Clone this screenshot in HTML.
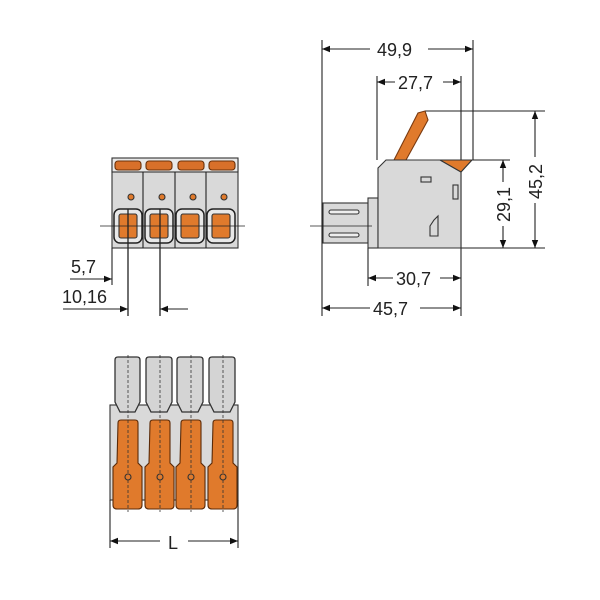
<!DOCTYPE html>
<html><head><style>body{margin:0;background:#fff}svg{display:block}text{font-family:"Liberation Sans",sans-serif;font-size:18px;fill:#222}</style></head><body>
<svg width="600" height="600" viewBox="0 0 600 600">
<defs>
<marker id="a" viewBox="0 0 10 10" refX="10" refY="5" markerWidth="13" markerHeight="8" markerUnits="userSpaceOnUse" orient="auto-start-reverse"><path d="M0,1 L10,5 L0,9 z" fill="#111"/></marker>
</defs>
<g stroke="#222" stroke-width="1.1" fill="none">
<rect x="112" y="160" width="126" height="88" fill="#d9d9d9" stroke="#333"/>
<rect x="112" y="158" width="126" height="14" fill="#e8e8e8" stroke="#333"/>
<g fill="#d8702a" stroke="#6a3008">
<rect x="115" y="161" width="26" height="9" rx="3"/><rect x="146" y="161" width="26" height="9" rx="3"/><rect x="178" y="161" width="26" height="9" rx="3"/><rect x="209" y="161" width="26" height="9" rx="3"/>
</g>
<g stroke="#222" stroke-width="1.5" fill="#e8e8e8">
<rect x="114" y="209" width="28" height="34" rx="6"/><rect x="145" y="209" width="28" height="34" rx="6"/><rect x="176" y="209" width="28" height="34" rx="6"/><rect x="207" y="209" width="28" height="34" rx="6"/>
</g>
<g fill="#e07a2c" stroke="#333">
<rect x="119" y="214" width="18" height="24" rx="2"/><rect x="150" y="214" width="18" height="24" rx="2"/><rect x="181" y="214" width="18" height="24" rx="2"/><rect x="212" y="214" width="18" height="24" rx="2"/>
</g>
<g fill="#e07a2c" stroke="#333"><circle cx="131" cy="197" r="3"/><circle cx="162" cy="197" r="3"/><circle cx="193" cy="197" r="3"/><circle cx="224" cy="197" r="3"/></g>
<line x1="143" y1="172" x2="143" y2="248"/><line x1="175" y1="172" x2="175" y2="248"/><line x1="206" y1="172" x2="206" y2="248"/>
<line x1="100" y1="226" x2="245" y2="226" stroke-width="0.7"/>
<line x1="112" y1="248" x2="112" y2="285"/>
<line x1="128" y1="209" x2="128" y2="316" stroke-width="1.3"/>
<line x1="160" y1="209" x2="160" y2="316" stroke-width="1.3"/>
<line x1="70" y1="279" x2="112" y2="279" marker-end="url(#a)"/>
<line x1="63" y1="309" x2="128" y2="309" marker-end="url(#a)"/>
<line x1="188" y1="309" x2="160" y2="309" marker-end="url(#a)"/>
<line x1="322" y1="40" x2="322" y2="316"/>
<line x1="473" y1="40" x2="473" y2="160"/>
<line x1="377" y1="76" x2="377" y2="160"/>
<line x1="461" y1="76" x2="461" y2="316"/>
<line x1="368" y1="248" x2="368" y2="286"/>
<line x1="425" y1="111" x2="545" y2="111"/>
<line x1="461" y1="160" x2="510" y2="160"/>
<line x1="461" y1="248" x2="545" y2="248"/>
<rect x="323" y="203" width="45" height="40" fill="#d9d9d9" stroke="#333"/>
<rect x="329" y="210" width="30" height="4" rx="2" stroke="#333" fill="#eee"/>
<rect x="329" y="233" width="30" height="4" rx="2" stroke="#333" fill="#eee"/>
<rect x="368" y="198" width="10" height="50" fill="#d9d9d9" stroke="#333"/>
<path d="M394,160 L418,113 L425,111 L428,120 L406,160 z" fill="#e07a2c" stroke="#7a3a10"/>
<path d="M378,168 L386,160 L461,160 L461,248 L378,248 z" fill="#d9d9d9" stroke="#333"/>
<path d="M440,160 L472,160 L461,172 z" fill="#e07a2c" stroke="#333"/>
<rect x="421" y="177" width="10" height="5" stroke="#333"/>
<rect x="453" y="185" width="5" height="14" stroke="#333"/>
<path d="M434,220 L438,216 L438,236 L430,236 L430,226 z" stroke="#333"/>
<line x1="310" y1="226" x2="372" y2="226" stroke-width="0.7"/>
<line x1="322" y1="49" x2="370" y2="49" marker-start="url(#a)"/>
<line x1="428" y1="49" x2="473" y2="49" marker-end="url(#a)"/>
<line x1="377" y1="82" x2="395" y2="82" marker-start="url(#a)"/>
<line x1="443" y1="82" x2="461" y2="82" marker-end="url(#a)"/>
<line x1="368" y1="278" x2="393" y2="278" marker-start="url(#a)"/>
<line x1="440" y1="278" x2="461" y2="278" marker-end="url(#a)"/>
<line x1="322" y1="308" x2="370" y2="308" marker-start="url(#a)"/>
<line x1="420" y1="308" x2="461" y2="308" marker-end="url(#a)"/>
<line x1="503" y1="160" x2="503" y2="182" marker-start="url(#a)"/>
<line x1="503" y1="226" x2="503" y2="248" marker-end="url(#a)"/>
<line x1="535" y1="111" x2="535" y2="157" marker-start="url(#a)"/>
<line x1="535" y1="203" x2="535" y2="248" marker-end="url(#a)"/>
<rect x="110" y="405" width="128" height="95" fill="#d9d9d9" stroke="#333"/>
<g fill="#d4d4d4" stroke="#333" stroke-width="1.3">
<path d="M115,360 q0,-3 3,-3 h19 q3,0 3,3 v42 l-5,10 h-15 l-5,-10 z"/><path d="M146,360 q0,-3 3,-3 h20 q3,0 3,3 v42 l-5,10 h-16 l-5,-10 z"/><path d="M177,360 q0,-3 3,-3 h20 q3,0 3,3 v42 l-5,10 h-16 l-5,-10 z"/><path d="M209,360 q0,-3 3,-3 h20 q3,0 3,3 v42 l-5,10 h-16 l-5,-10 z"/>
</g>
<g fill="#e07a2c" stroke="#5a2a08">
<path d="M118,423 q0,-3 3,-3 h14 q3,0 3,3 v40 l4,4 v38 q0,4 -4,4 h-21 q-4,0 -4,-4 v-38 l4,-4 z"/>
<path d="M150,423 q0,-3 3,-3 h14 q3,0 3,3 v40 l4,4 v38 q0,4 -4,4 h-21 q-4,0 -4,-4 v-38 l4,-4 z"/>
<path d="M181,423 q0,-3 3,-3 h14 q3,0 3,3 v40 l4,4 v38 q0,4 -4,4 h-21 q-4,0 -4,-4 v-38 l4,-4 z"/>
<path d="M213,423 q0,-3 3,-3 h14 q3,0 3,3 v40 l4,4 v38 q0,4 -4,4 h-21 q-4,0 -4,-4 v-38 l4,-4 z"/>
</g>
<g stroke="#333" stroke-dasharray="3,2" stroke-width="0.8"><line x1="128" y1="355" x2="128" y2="512"/><line x1="160" y1="355" x2="160" y2="512"/><line x1="191" y1="355" x2="191" y2="512"/><line x1="223" y1="355" x2="223" y2="512"/></g>
<g fill="#e07a2c" stroke="#333"><circle cx="128" cy="477" r="3"/><circle cx="160" cy="477" r="3"/><circle cx="191" cy="477" r="3"/><circle cx="223" cy="477" r="3"/></g>
<line x1="110" y1="500" x2="110" y2="548"/><line x1="238" y1="500" x2="238" y2="548"/>
<line x1="110" y1="541" x2="160" y2="541" marker-start="url(#a)"/>
<line x1="188" y1="541" x2="238" y2="541" marker-end="url(#a)"/>
</g>
<text x="71" y="273">5,7</text>
<text x="62" y="303">10,16</text>
<text x="377" y="56">49,9</text>
<text x="398" y="89">27,7</text>
<text x="396" y="285">30,7</text>
<text x="373" y="315">45,7</text>
<text x="168" y="549">L</text>
<text transform="translate(510,222) rotate(-90)">29,1</text>
<text transform="translate(542,199) rotate(-90)">45,2</text>
</svg>
</body></html>
